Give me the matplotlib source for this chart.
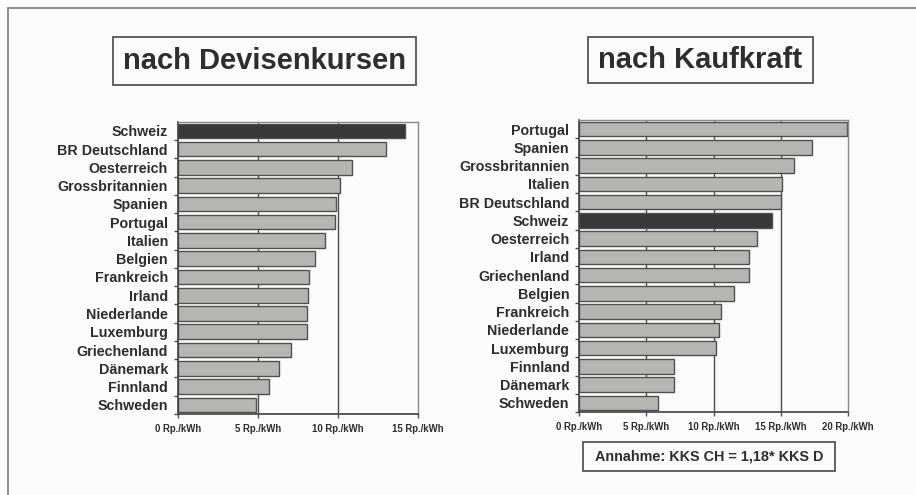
#!/usr/bin/env python3
"""Strompreise im europaeischen Vergleich: nach Devisenkursen / nach Kaufkraft."""

import matplotlib

matplotlib.use("Agg")
import matplotlib.pyplot as plt
from matplotlib.patches import Rectangle

plt.rcParams["font.family"] = ["Liberation Sans", "DejaVu Sans"]
plt.rcParams["font.weight"] = "bold"

# left panel: nach Devisenkursen (top to bottom)
dev_countries = [
    "Schweiz", "BR Deutschland", "Oesterreich", "Grossbritannien", "Spanien",
    "Portugal", "Italien", "Belgien", "Frankreich", "Irland", "Niederlande",
    "Luxemburg", "Griechenland", "Dänemark", "Finnland", "Schweden",
]
dev_values = [14.2, 13.0, 10.9, 10.15, 9.9, 9.8, 9.2, 8.6, 8.2, 8.15, 8.05,
              8.05, 7.1, 6.35, 5.7, 4.9]

# right panel: nach Kaufkraft (top to bottom)
kk_countries = [
    "Portugal", "Spanien", "Grossbritannien", "Italien", "BR Deutschland",
    "Schweiz", "Oesterreich", "Irland", "Griechenland", "Belgien", "Frankreich",
    "Niederlande", "Luxemburg", "Finnland", "Dänemark", "Schweden",
]
kk_values = [19.9, 17.3, 16.0, 15.05, 15.0, 14.3, 13.2, 12.6, 12.6, 11.5,
             10.55, 10.4, 10.15, 7.05, 7.05, 5.85]

dev_ticks = [0, 5, 10, 15]
kk_ticks = [0, 5, 10, 15, 20]
unit = "Rp./kWh"

W, H = 916, 495
INK = "#2e2e2e"
BAR = "#b5b5b2"
BAR_DARK = "#383838"
EDGE = "#505050"


def px(x, y):
    return x / W, 1 - y / H


def draw_panel(ax, countries, values, ticks):
    n = len(countries)
    pos = list(range(n))[::-1]
    colors = [BAR_DARK if c == "Schweiz" else BAR for c in countries]
    for t in ticks[1:-1]:
        ax.axvline(t, color="#4a4a4a", lw=1.0, zorder=1)
    ax.barh(pos, values, height=0.8, color=colors, edgecolor=EDGE,
            linewidth=1.0, zorder=2)
    ax.set_xlim(ticks[0], ticks[-1])
    ax.set_ylim(-0.5, n - 0.5)
    ax.set_yticks(pos)
    ax.set_yticklabels(countries, fontsize=10.3, fontweight="bold", color=INK)
    ax.set_yticks([p - 0.5 for p in range(n)], minor=True)
    ax.tick_params(axis="y", which="major", length=0, pad=7)
    ax.tick_params(axis="y", which="minor", length=3, color=EDGE, width=1)
    ax.set_xticks(ticks)
    ax.set_xticklabels([f"{t} {unit}" for t in ticks], fontsize=6.9,
                       fontweight="bold", color=INK)
    ax.tick_params(axis="x", length=3, color=EDGE, width=1, pad=4)
    for side in ("left", "bottom"):
        ax.spines[side].set_color("#404040")
        ax.spines[side].set_linewidth(1.2)
    for side in ("top", "right"):
        ax.spines[side].set_color("#8a8a8a")
        ax.spines[side].set_linewidth(1.0)
    ax.set_facecolor("none")


def boxed_text(fig, text, x0, y0, x1, y1, size):
    l, t = px(x0, y0)
    r, b = px(x1, y1)
    fig.patches.append(Rectangle((l, b), r - l, t - b, transform=fig.transFigure,
                                 fill=False, edgecolor="#555555", lw=1.3))
    fig.text((l + r) / 2, (t + b) / 2, text, ha="center", va="center",
             fontsize=size, fontweight="bold", color=INK)


fig = plt.figure(figsize=(W / 100, H / 100), dpi=100)
fig.patch.set_facecolor("#fbfbf9")

# outer frame (runs off the right and bottom edge)
fl, fb = px(7.5, 600)
ft = 1 - 8 / H
fig.patches.append(Rectangle((fl, fb), 1.5, ft - fb,
                             transform=fig.transFigure, fill=False,
                             edgecolor="#8a8580", lw=1.3))

ax1 = fig.add_axes([177.7 / W, 1 - 414 / H, (418 - 177.7) / W, (414 - 121.7) / H])
draw_panel(ax1, dev_countries, dev_values, dev_ticks)

ax2 = fig.add_axes([579 / W, 1 - 412 / H, (848.3 - 579) / W, (412 - 120) / H])
draw_panel(ax2, kk_countries, kk_values, kk_ticks)

boxed_text(fig, "nach Devisenkursen", 112.7, 37.3, 416, 85, 21)
boxed_text(fig, "nach Kaufkraft", 588, 37, 813, 83, 21)
boxed_text(fig, "Annahme: KKS CH = 1,18* KKS D", 582.7, 441.7, 835, 471, 10.4)

fig.savefig("out.png", dpi=100, facecolor=fig.get_facecolor())
